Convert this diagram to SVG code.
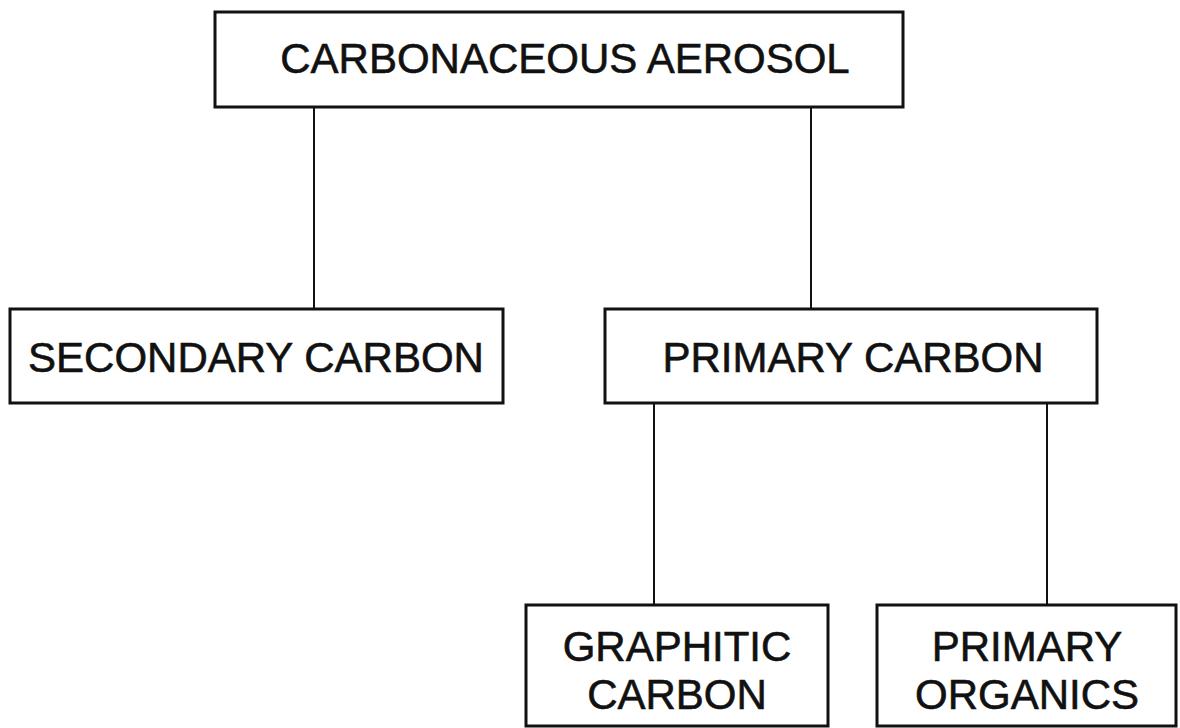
<svg xmlns="http://www.w3.org/2000/svg" width="1180" height="728" viewBox="0 0 1180 728">
<style>
.box{fill:#fff;stroke:#111;stroke-width:3}
.lbl{font-family:"Liberation Sans",Arial,sans-serif;font-size:42px;fill:#111;stroke:#111;stroke-width:0.6;text-anchor:middle}
.con{stroke:#111;stroke-width:2;fill:none}
</style>
<rect width="1180" height="728" fill="#fff"/>
<g id="connectors">
<line class="con" x1="314" y1="107" x2="314" y2="309"/>
<line class="con" x1="811" y1="107" x2="811" y2="309"/>
<line class="con" x1="654" y1="403" x2="654" y2="605"/>
<line class="con" x1="1047" y1="403" x2="1047" y2="605"/>
</g>
<g id="carbonaceous-aerosol">
<rect class="box" x="215" y="12" width="688" height="95"/>
<text class="lbl" x="565" y="73">CARBONACEOUS AEROSOL</text>
</g>
<g id="secondary-carbon">
<rect class="box" x="10" y="309" width="493" height="94"/>
<text class="lbl" x="256" y="372">SECONDARY CARBON</text>
</g>
<g id="primary-carbon">
<rect class="box" x="605" y="309" width="492" height="94"/>
<text class="lbl" x="853" y="372">PRIMARY CARBON</text>
</g>
<g id="graphitic-carbon">
<rect class="box" x="526" y="605" width="302" height="121"/>
<text class="lbl" x="677" y="661">GRAPHITIC</text>
<text class="lbl" x="677" y="709">CARBON</text>
</g>
<g id="primary-organics">
<rect class="box" x="877" y="605" width="299" height="121"/>
<text class="lbl" x="1027" y="661">PRIMARY</text>
<text class="lbl" x="1027" y="709">ORGANICS</text>
</g>
</svg>
